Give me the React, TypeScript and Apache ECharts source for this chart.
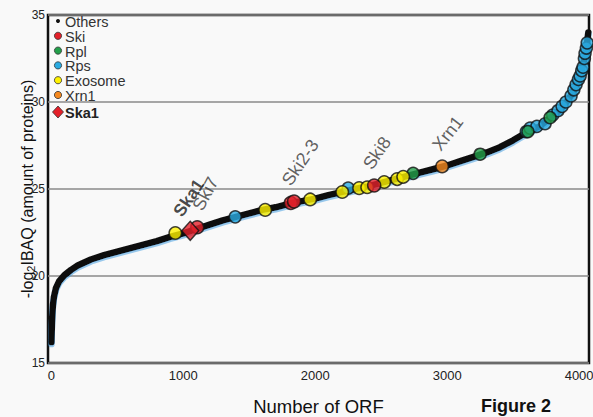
import React, { useEffect, useRef } from "react";
import * as echarts from "echarts";

// Main ranked curve ("Others")
const curveOrf = [1, 3, 5, 8, 12, 20, 35, 60, 100, 150, 200, 300, 400, 500, 600, 700, 800, 900, 1000, 1100, 1200, 1300, 1400, 1500, 1600, 1700, 1800, 1900, 2000, 2100, 2200, 2300, 2400, 2500, 2600, 2700, 2800, 2900, 3000, 3100, 3200, 3300, 3400, 3500, 3600, 3700, 3750, 3800, 3850, 3900, 3950, 3980, 4000, 4020, 4040, 4055, 4065, 4070];
const curveLog2 = [16.2, 16.8, 17.3, 17.8, 18.3, 18.8, 19.3, 19.7, 20.05, 20.35, 20.6, 20.95, 21.2, 21.4, 21.6, 21.8, 22.0, 22.25, 22.45, 22.7, 22.95, 23.2, 23.4, 23.6, 23.8, 23.95, 24.15, 24.3, 24.45, 24.65, 24.82, 25.0, 25.15, 25.35, 25.55, 25.75, 25.95, 26.15, 26.35, 26.6, 26.85, 27.1, 27.4, 27.8, 28.25, 28.6, 28.9, 29.2, 29.5, 29.95, 30.5, 31.0, 31.35, 31.8, 32.5, 33.1, 33.7, 34.0];

// Highlighted groups
const rpsOrf = [1394, 2250, 3600, 3629, 3680, 3742, 3800, 3840, 3871, 3900, 3939, 3960, 3977, 3995, 4008, 4020, 4030, 4040, 4045, 4055, 4061];
const rpsLog2 = [23.4, 25.05, 28.3, 28.5, 28.6, 28.75, 29.25, 29.5, 29.75, 30.0, 30.35, 30.7, 31.0, 31.3, 31.5, 31.8, 32.0, 32.5, 32.8, 33.1, 33.4];

const rplOrf = [2742, 3250, 3612, 3780];
const rplLog2 = [25.9, 27.0, 28.3, 29.1];

const exoOrf = [940, 1621, 1962, 2205, 2333, 2394, 2523, 2621, 2667];
const exoLog2 = [22.47, 23.8, 24.4, 24.83, 25.05, 25.1, 25.4, 25.57, 25.7];

const skiNames = ["Ski7", "", "Ski2-3", "Ski8"];
const skiOrf = [1106, 1815, 1840, 2447];
const skiLog2 = [22.8, 24.2, 24.28, 25.2];

const xrnNames = ["Xrn1"];
const xrnOrf = [2962];
const xrnLog2 = [26.3];

const skaNames = ["Ska1"];
const skaOrf = [1053];
const skaLog2 = [22.6];

const xTicks = [0, 1000, 2000, 3000, 4000];

const C_RED = "#e4202a";
const C_GREEN = "#23a04a";
const C_BLUE = "#2aabe2";
const C_YELLOW = "#fff200";
const C_ORANGE = "#f5891f";

const FONT = "Liberation Sans, Arial, sans-serif";

const zip = (a: number[], b: number[]) => a.map((v, i) => [v, b[i]]);

// label placement: screen offset from the mark centre to the text's left-middle point, and rotation
const labelPlace: Record<string, { dx: number; dy: number; rot: number }> = {
  Ska1: { dx: -13, dy: -16, rot: 56 },
  Ski7: { dx: 0, dy: -18, rot: 62 },
  "Ski2-3": { dx: -8, dy: -18, rot: 56 },
  Ski8: { dx: -7, dy: -18, rot: 56 },
  Xrn1: { dx: -6, dy: -18, rot: 52 },
};

const toLocal = (dx: number, dy: number, deg: number) => {
  const r = (deg * Math.PI) / 180;
  const c = Math.cos(r);
  const s = Math.sin(r);
  return [dx * c - dy * s, dx * s + dy * c];
};

const named = (names: string[], xs: number[], ys: number[]) =>
  xs.map((x, i) => {
    const n = names[i];
    const item: any = { value: [x, ys[i]] };
    if (n) {
      const p = labelPlace[n];
      item.label = {
        show: true,
        formatter: n,
        rotate: p.rot,
        offset: toLocal(p.dx, p.dy, p.rot),
      };
    }
    return item;
  });

const seriesLabel = (bold: boolean) => ({
  show: false,
  position: "inside",
  align: "left",
  verticalAlign: "middle",
  fontFamily: FONT,
  fontSize: bold ? 17.5 : 18,
  fontWeight: bold ? "bold" : "normal",
  color: bold ? "#1a1a1a" : "#383838",
});

export default function App() {
  const ref = useRef<HTMLDivElement>(null);
  useEffect(() => {
    if (!ref.current) return;
    const chart = echarts.init(ref.current, undefined, { renderer: "svg" });
    const circleStyle = (c: string) => ({ color: c, borderColor: "#111", borderWidth: 1.5 });
    const legendItems = [
      { name: "Others", color: "#111", r: 2, shape: "dot" },
      { name: "Ski", color: C_RED, r: 3.6, shape: "c" },
      { name: "Rpl", color: C_GREEN, r: 3.6, shape: "c" },
      { name: "Rps", color: C_BLUE, r: 3.6, shape: "c" },
      { name: "Exosome", color: C_YELLOW, r: 3.6, shape: "c" },
      { name: "Xrn1", color: C_ORANGE, r: 3.6, shape: "c" },
    ];
    const legendGraphics: any[] = [];
    legendItems.forEach((it, i) => {
      const y = 21 + i * 14.8;
      legendGraphics.push({
        type: "circle",
        shape: { cx: 58, cy: y, r: it.r },
        style: { fill: it.color, stroke: it.shape === "dot" ? undefined : "#333", lineWidth: 0.8 },
      });
      legendGraphics.push({
        type: "text",
        x: 65,
        y: y + 1,
        style: { text: it.name, font: `14.5px ${FONT}`, fill: "#333", verticalAlign: "middle", align: "left" },
      });
    });
    legendGraphics.push({
      type: "polygon",
      shape: { points: [[58, 106], [63.5, 112], [58, 118], [52.5, 112]] },
      style: { fill: C_RED, stroke: "#333", lineWidth: 0.8 },
    });
    legendGraphics.push({
      type: "text",
      x: 65,
      y: 112.5,
      style: { text: "Ska1", font: `bold 14.5px ${FONT}`, fill: "#222", verticalAlign: "middle", align: "left" },
    });
    legendGraphics.push({
      type: "text",
      x: 516,
      y: 406,
      style: { text: "Figure 2", font: `bold 18px ${FONT}`, fill: "#111", verticalAlign: "middle", align: "center" },
    });

    chart.setOption({
      animation: false,
      backgroundColor: "#f9f9f9",
      grid: {
        left: 48,
        right: 4,
        top: 15,
        bottom: 54,
        show: true,
        borderColor: "#111",
        borderWidth: 2.5,
        backgroundColor: "transparent",
        outerBoundsMode: "none",
        containLabel: false,
      },
      xAxis: {
        type: "value",
        min: -25,
        max: 4075,
        name: "Number of ORF",
        nameLocation: "middle",
        nameGap: 34,
        nameMoveOverlap: false,
        nameTextStyle: { fontFamily: FONT, fontSize: 18.5, color: "#111" },
        axisLine: { show: false },
        axisTick: { show: false },
        splitLine: { show: false },
        axisLabel: {
          customValues: xTicks,
          formatter: (v: number) => String(v),
          fontFamily: FONT,
          fontSize: 13,
          color: "#222",
          margin: 6,
        },
      },
      yAxis: {
        type: "value",
        min: 15,
        max: 35,
        interval: 5,
        name: "-log{sub|2}IBAQ (amount of proteins)",
        nameLocation: "middle",
        nameGap: 12,
        nameMoveOverlap: false,
        nameRotate: 90,
        nameTextStyle: {
          fontFamily: FONT,
          fontSize: 16,
          color: "#111",
          rich: { sub: { fontFamily: FONT, fontSize: 11, color: "#111", verticalAlign: "bottom", padding: [7, 0, 0, 0] } },
        },
        axisLine: { show: false },
        axisTick: { show: false },
        axisLabel: { fontFamily: FONT, fontSize: 12, color: "#222", margin: 3 },
        splitLine: { show: true, lineStyle: { color: "#8a8a8a", width: 1.5 } },
      },
      graphic: legendGraphics,
      series: [
        {
          name: "Others",
          type: "line",
          data: zip(curveOrf, curveLog2),
          showSymbol: false,
          symbol: "none",
          lineStyle: {
            color: "#111",
            width: 6.5,
            cap: "round",
            join: "round",
            shadowColor: "rgba(70,160,225,0.55)",
            shadowOffsetY: 2,
            shadowBlur: 1,
          },
          z: 2,
        },
        {
          name: "Rps",
          type: "scatter",
          data: zip(rpsOrf, rpsLog2),
          symbolSize: 12,
          itemStyle: circleStyle(C_BLUE),
          z: 3,
        },
        {
          name: "Rpl",
          type: "scatter",
          data: zip(rplOrf, rplLog2),
          symbolSize: 12,
          itemStyle: circleStyle(C_GREEN),
          z: 4,
        },
        {
          name: "Exosome",
          type: "scatter",
          data: zip(exoOrf, exoLog2),
          symbolSize: 12.5,
          itemStyle: circleStyle(C_YELLOW),
          z: 5,
        },
        {
          name: "Ski",
          type: "scatter",
          data: named(skiNames, skiOrf, skiLog2),
          symbolSize: 13,
          itemStyle: circleStyle(C_RED),
          label: seriesLabel(false),
          z: 6,
        },
        {
          name: "Xrn1",
          type: "scatter",
          data: named(xrnNames, xrnOrf, xrnLog2),
          symbolSize: 12.5,
          itemStyle: circleStyle(C_ORANGE),
          label: seriesLabel(false),
          z: 6,
        },
        {
          name: "Ska1",
          type: "scatter",
          data: named(skaNames, skaOrf, skaLog2),
          symbol: "diamond",
          symbolSize: [17, 19],
          itemStyle: circleStyle(C_RED),
          label: seriesLabel(true),
          z: 7,
        },
      ],
    });
    return () => chart.dispose();
  }, []);
  return (
    <div
      ref={ref}
      style={{ position: "absolute", left: 0, top: 0, width: 593, height: 417 }}
    />
  );
}
